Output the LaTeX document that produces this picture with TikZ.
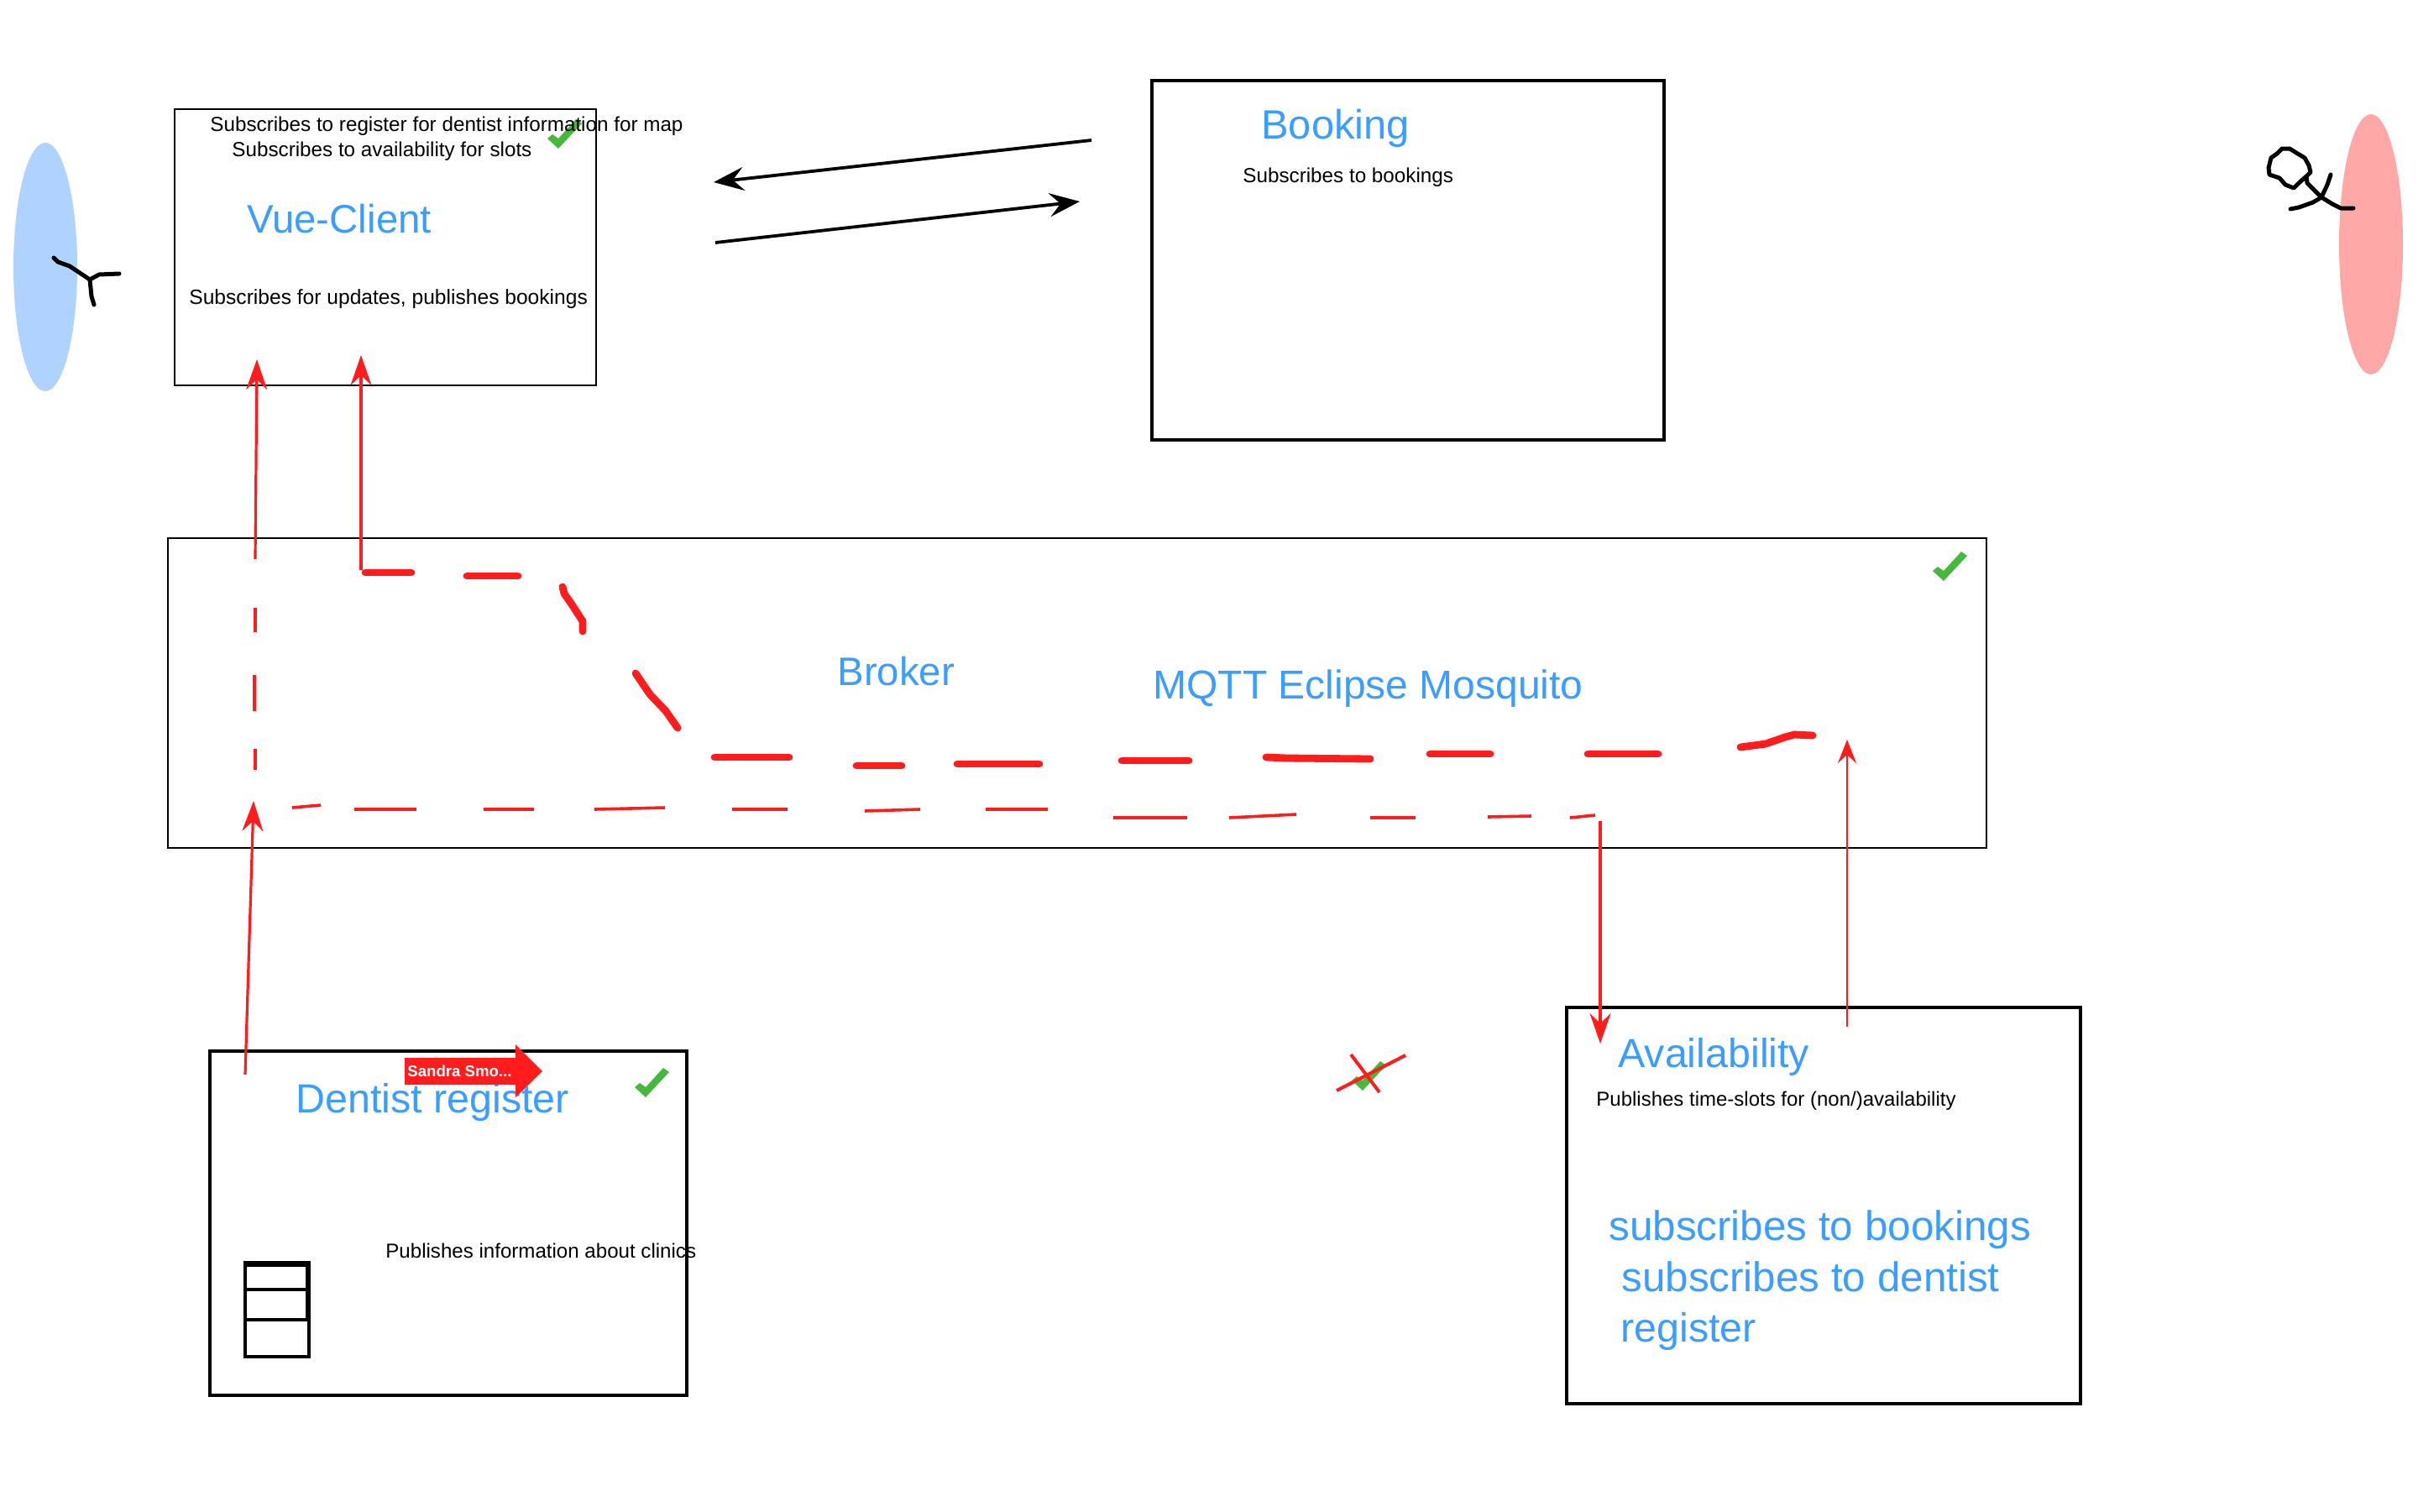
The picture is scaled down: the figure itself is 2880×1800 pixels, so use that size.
\documentclass[tikz,border=0pt]{standalone}
\usepackage{fontspec}
\setmainfont{Liberation Sans}
\usetikzlibrary{arrows.meta}
\definecolor{bluetxt}{HTML}{3A9DFF}
\definecolor{redl}{HTML}{FF1C1C}
\definecolor{greenc}{HTML}{46B83C}
\definecolor{bluee}{HTML}{AFD2FF}
\definecolor{pinke}{HTML}{FFA8A8}
\tikzset{
  boxthin/.style={draw=black,line width=1pt,inner sep=0,outer sep=0,anchor=north west},
  boxthick/.style={draw=black,line width=2pt,inner sep=0,outer sep=0,anchor=north west},
  small/.style={inner sep=0,anchor=base west,font=\fontsize{12.12}{14}\selectfont,text=black},
  title/.style={inner sep=0,anchor=base west,font=\fontsize{23.7}{28}\selectfont,text=bluetxt},
  blackarrow/.style={draw=black,line width=1.9pt,-{Stealth[length=18pt,width=14pt,inset=6.5pt]}},
  redarrow/.style={draw=redl,line width=1.6pt,-{Stealth[length=18pt,width=12.5pt,inset=6pt]}},
  redthin/.style={draw=redl,line width=1pt,-{Stealth[length=14pt,width=11pt,inset=5pt]}},
  thindash/.style={draw=redl,line width=1.8pt},
  thickdash/.style={draw=redl,line width=4.4pt,line cap=round,line join=round},
  hand/.style={draw=black,line width=2.5pt,line cap=round,line join=round},
  crossout/.style={draw=redl,line width=2pt},
  chkmark/.style={fill=greenc,draw=none}
}
\newcommand{\chkat}[2]{\fill[chkmark,shift={(#1,#2)}] (0,23)--(13,35)--(41,5)--(34,0)--(13,23)--(6,18)--cycle;}
\newcommand{\tsize}[1]{\fontsize{#1}{28}\selectfont}
\begin{document}
\begin{tikzpicture}[x=0.5pt,y=-0.5pt]
\useasboundingbox (0,0) rectangle (2880,1800);
% actors
\fill[bluee] (54,318) ellipse [x radius=38,y radius=148];
\fill[pinke] (2824,291) ellipse [x radius=38,y radius=155];
\draw[hand] (64,307)--(69,312)--(83,317)--(95,325)--(107,333);
\draw[hand] (107,333)--(109,353)--(112,363);
\draw[hand] (107,333)--(118,327)--(142,326);
\draw[hand] (2747,210)--(2752,205)--(2750,197)--(2745,188)--(2735,182)--(2727,177)--(2718,177)--(2712,183)--(2705,188)--(2702,200)--(2703,208)--(2715,212)--(2722,220)--(2732,224)--(2738,218)--cycle;
\draw[hand] (2747,210)--(2748,218)--(2765,235)--(2778,243)--(2788,248)--(2803,248);
\draw[hand] (2776,208)--(2772,220)--(2765,235)--(2755,241)--(2738,247)--(2728,249);
% boxes
\node[boxthin,minimum width=251pt,minimum height=164.5pt] (vue) at (208,130) {};
\node[boxthick,minimum width=305pt,minimum height=214pt] (booking) at (1372,96) {};
\node[boxthin,minimum width=1083pt,minimum height=184.5pt] (broker) at (200,641) {};
\node[boxthick,minimum width=284pt,minimum height=205pt] (dentist) at (250,1252) {};
\node[boxthick,minimum width=306pt,minimum height=236pt] (avail) at (1866,1200) {};
% checks
\chkat{652}{142}
\chkat{2302}{657}
\chkat{756}{1272}
\chkat{1610}{1264}
% texts
\node[small] (t1) at (250,156) {Subscribes to register for dentist information for map};
\node[small] (t2) at (276,186) {Subscribes to availability for slots};
\node[title] (vuet) at (294,277) {Vue-Client};
\node[small,font=\tsize{12.3}] (t3) at (225,362) {Subscribes for updates, publishes bookings};
\node[title,font=\tsize{24.4}] (bookt) at (1502,165) {Booking};
\node[small] (t4) at (1480,217) {Subscribes to bookings};
\node[title] (brokt) at (997,816) {Broker};
\node[title,font=\tsize{24.0}] (mqtt) at (1373,832) {MQTT Eclipse Mosquito};
\node[title,font=\tsize{24.2}] (dent) at (352,1325) {Dentist register};
\node[small,font=\tsize{12.05}] (t5) at (459,1498) {Publishes information about clinics};
\node[title,font=\tsize{24.2}] (avt) at (1927,1271) {Availability};
\node[small,font=\tsize{12.0}] (t6) at (1901,1317) {Publishes time-slots for (non/)availability};
\node[title,font=\tsize{24.7}] (s1) at (1916,1477) {subscribes to bookings};
\node[title,font=\tsize{24.7}] (s2) at (1931,1538) {subscribes to dentist};
\node[title,font=\tsize{24.2}] (s3) at (1930,1598) {register};
% table icon
\draw[black,line width=2pt] (292,1504) rectangle (368,1616);
\draw[black,line width=2pt] (292,1507) rectangle (366,1572);
\draw[black,line width=2pt] (292,1536) -- (366,1536);
% Sandra arrow
\fill[redl] (482,1260)--(614,1260)--(614,1244)--(646,1276)--(614,1307)--(614,1292)--(482,1292)--cycle;
\node[inner sep=0,anchor=base west,text=white,font=\bfseries\fontsize{9.3}{11}\selectfont] (sandra) at (485,1282) {Sandra Smo...};
% black arrows
\coordinate (b1s) at (1300,167); \coordinate (b1e) at (850,217);
\coordinate (b2s) at (852,289); \coordinate (b2e) at (1286,240);
\draw[blackarrow] (b1s) -- (b1e);
\draw[blackarrow] (b2s) -- (b2e);
% red arrows
\coordinate (r1s) at (304,666); \coordinate (r1e) at (306,428);
\coordinate (r2s) at (430,679); \coordinate (r2e) at (430,423);
\coordinate (r3s) at (292,1280); \coordinate (r3e) at (302,954);
\coordinate (r4s) at (1906,978); \coordinate (r4e) at (1906,1243);
\coordinate (r5s) at (2200,1223); \coordinate (r5e) at (2200,881);
\draw[redarrow] (r1s) -- (r1e);
\draw[redarrow] (r2s) -- (r2e);
\draw[redarrow] (r3s) -- (r3e);
\draw[redarrow] (r4s) -- (r4e);
\draw[redthin] (r5s) -- (r5e);
% thin dashes
\foreach \a/\b/\c/\d in {304/724/304/753,303/804/303/847,304/892/304/917,
 348/962/382/959,422/964/496/964,576/964/636/964,708/964/792/962,872/964/938/964,
 1030/966/1096/964,1174/964/1248/964,1326/974/1414/974,1464/974/1544/970,
 1632/974/1686/974,1772/973/1824/972,1870/974/1900/971}
  {\draw[thindash] (\a,\b) -- (\c,\d);}
% thick dashes
\foreach \a/\b/\c/\d in {435/682/490/682,556/686/617/686,851/902/940/902,
 1020/912/1074/912,1140/910/1238/910,1336/906/1416/906,1703/898/1775/898,1891/898/1975/898}
  {\draw[thickdash] (\a,\b) -- (\c,\d);}
\draw[thickdash] (670,699)--(672,707)--(681,720)--(694,740)--(694,752);
\draw[thickdash] (757,802)--(774,827)--(793,847)--(807,867);
\draw[thickdash] (1508,902)--(1533,903)--(1632,904);
\draw[thickdash] (2073,890)--(2103,886)--(2126,878)--(2137,875)--(2159,876);
% cross
\draw[crossout] (1592,1299)--(1674,1257);
\draw[crossout] (1609,1256)--(1643,1301);
\end{tikzpicture}
\end{document}
